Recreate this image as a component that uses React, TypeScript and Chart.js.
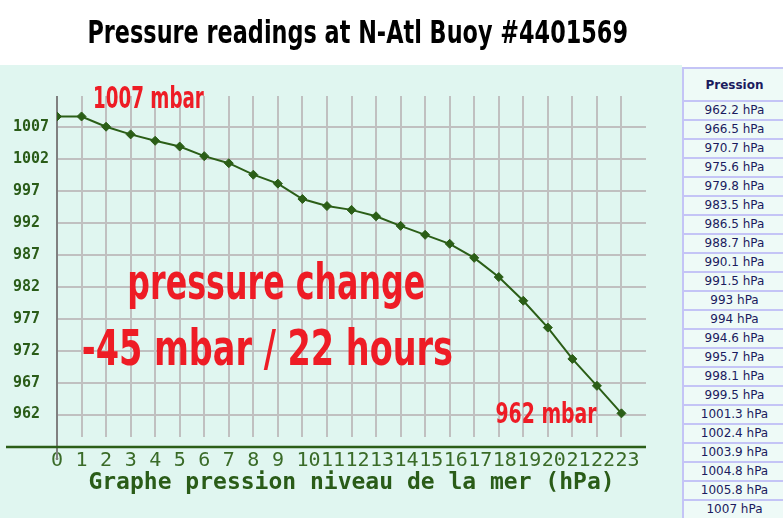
import React, { useEffect, useRef } from 'react';
import { Chart, registerables } from 'chart.js';

Chart.register(...registerables);

// ---------- data ----------
const chartTitle = 'Pressure readings at N-Atl Buoy #4401569';
const hours = [0, 1, 2, 3, 4, 5, 6, 7, 8, 9, 10, 11, 12, 13, 14, 15, 16, 17, 18, 19, 20, 21, 22, 23];
const pressureHpa = [
  1008.6, 1008.6, 1007.0, 1005.8, 1004.8, 1003.9, 1002.4, 1001.3, 999.5, 998.1, 995.7, 994.6,
  994.0, 993.0, 991.5, 990.1, 988.7, 986.5, 983.5, 979.8, 975.6, 970.7, 966.5, 962.2,
];
const yTickValues = [962, 967, 972, 977, 982, 987, 992, 997, 1002, 1007];
const xAxisTitle = 'Graphe pression niveau de la mer (hPa)';
const tableHeader = 'Pression';
const tableUnit = 'hPa';
const tableValues = [...pressureHpa].reverse();
const annotationTexts = ['1007 mbar', 'pressure change', '-45 mbar / 22 hours', '962 mbar'];

// ---------- styles ----------
const CONDENSED = '"Liberation Sans Narrow", "DejaVu Sans Condensed", "DejaVu Sans", sans-serif';
const MONO = '"DejaVu Sans Mono", "Liberation Mono", monospace';
const RED = '#ee1c25';
const GREEN = '#2b5e17';
const DARK_TEXT = '#2a5c18';
const TICK_TEXT = '#3a6b28';
const MINT = '#e0f6f0';
const GRID = '#c0c0c0';
const LAV = '#c4c4f6';
const NAVY = '#1b1b5e';
const CELL_BG = '#eefaf7';

type FitSpec = {
  text: string;
  left: number;
  baseline: number;
  width: number;
  refChar: string;
  refHeight: number;
  color: string;
};

const textBoxes: FitSpec[] = [
  { text: chartTitle, left: 89.3, baseline: 43.3, width: 537.4, refChar: '0', refHeight: 25, color: '#000000' },
  { text: annotationTexts[0], left: 95, baseline: 107.7, width: 109, refChar: '0', refHeight: 22.7, color: RED },
  { text: annotationTexts[1], left: 130, baseline: 299.3, width: 294, refChar: 'x', refHeight: 27.6, color: RED },
  { text: annotationTexts[2], left: 82.7, baseline: 365, width: 369, refChar: '0', refHeight: 38.5, color: RED },
  { text: annotationTexts[3], left: 496, baseline: 423.3, width: 100.7, refChar: '0', refHeight: 21.7, color: RED },
];

function drawFitted(ctx: CanvasRenderingContext2D, s: FitSpec) {
  ctx.save();
  ctx.font = `bold 40px ${CONDENSED}`;
  const m = ctx.measureText(s.text);
  const inkW = m.actualBoundingBoxLeft + m.actualBoundingBoxRight;
  const refH = ctx.measureText(s.refChar).actualBoundingBoxAscent;
  const sx = s.width / inkW;
  const sy = s.refHeight / refH;
  ctx.translate(s.left, s.baseline);
  ctx.scale(sx, sy);
  ctx.textAlign = 'left';
  ctx.textBaseline = 'alphabetic';
  ctx.fillStyle = s.color;
  ctx.fillText(s.text, m.actualBoundingBoxLeft, 0);
  ctx.restore();
}

const decorPlugin = {
  id: 'buoyDecor',
  beforeDraw(chart: any) {
    const { ctx, width, height } = chart;
    ctx.save();
    ctx.fillStyle = '#ffffff';
    ctx.fillRect(0, 0, width, height);
    ctx.fillStyle = MINT;
    ctx.fillRect(0, 65, width, height - 65);
    ctx.restore();
    drawFitted(ctx, textBoxes[0]);
  },
  beforeDatasetsDraw(chart: any) {
    const { ctx, chartArea } = chart;
    const x0 = chart.scales.x.getPixelForValue(hours[0]);
    ctx.save();
    ctx.lineWidth = 2;
    ctx.strokeStyle = '#808080';
    ctx.beginPath();
    ctx.moveTo(x0, chartArea.top);
    ctx.lineTo(x0, chartArea.bottom + 23);
    ctx.stroke();
    ctx.strokeStyle = GREEN;
    ctx.lineWidth = 2.5;
    ctx.beginPath();
    ctx.moveTo(6, chartArea.bottom + 10);
    ctx.lineTo(chartArea.right, chartArea.bottom + 10);
    ctx.stroke();
    ctx.restore();
    for (let i = 1; i < textBoxes.length; i++) drawFitted(ctx, textBoxes[i]);
  },
};

function PressureChart() {
  const ref = useRef<HTMLCanvasElement>(null);
  useEffect(() => {
    const canvas = ref.current;
    if (!canvas) return;
    const chart = new Chart(canvas, {
      type: 'line',
      data: {
        datasets: [
          {
            data: hours.map((h, i) => ({ x: h, y: pressureHpa[i] })),
            borderColor: GREEN,
            backgroundColor: GREEN,
            borderWidth: 2,
            pointStyle: 'rectRot',
            pointRadius: 4.5,
            pointBorderWidth: 1,
            pointBackgroundColor: GREEN,
            pointBorderColor: GREEN,
            tension: 0,
            fill: false,
          },
        ],
      },
      options: {
        responsive: false,
        animation: false,
        layout: { padding: { left: 13, top: 96, right: 36, bottom: 0 } },
        plugins: {
          legend: { display: false },
          tooltip: { enabled: false },
          title: { display: false },
        },
        scales: {
          x: {
            type: 'linear',
            min: 0,
            max: 24,
            afterBuildTicks: (s: any) => {
              s.ticks = hours.map((v) => ({ value: v }));
            },
            afterFit: (s: any) => {
              s.height = 81;
            },
            grid: { color: GRID, lineWidth: 2, drawTicks: false },
            border: { display: false },
            ticks: {
              autoSkip: false,
              maxRotation: 0,
              minRotation: 0,
              align: 'start',
              labelOffset: -6,
              padding: 12,
              color: TICK_TEXT,
              font: { family: MONO, size: 20 },
              callback: (v: any) => String(v),
            },
            title: {
              display: true,
              text: xAxisTitle,
              color: DARK_TEXT,
              font: { family: MONO, size: 23, weight: 'bold' },
              padding: { top: 0, bottom: 21 },
            },
          },
          y: {
            type: 'linear',
            min: 958.5,
            max: 1011.8,
            afterBuildTicks: (s: any) => {
              s.ticks = yTickValues.map((v) => ({ value: v }));
            },
            afterFit: (s: any) => {
              s.width = 44;
            },
            grid: { color: GRID, lineWidth: 2, drawTicks: false },
            border: { display: false },
            ticks: {
              crossAlign: 'far',
              padding: 0,
              color: DARK_TEXT,
              font: { family: MONO, size: 15, weight: 'bold' },
              callback: (v: any) => String(v),
            },
          },
        },
      } as any,
      plugins: [decorPlugin],
    });
    return () => chart.destroy();
  }, []);
  return (
    <canvas
      ref={ref}
      width={682}
      height={518}
      style={{ position: 'absolute', left: 0, top: 0, width: 682, height: 518 }}
    />
  );
}

function PressureTable() {
  const border = `2px solid ${LAV}`;
  return (
    <div style={{ position: 'absolute', left: 682, top: 67 }}>
      <table
        style={{
          borderCollapse: 'separate',
          borderSpacing: 0,
          width: 103,
          borderLeft: border,
          borderTop: border,
          fontFamily: '"DejaVu Sans", Verdana, sans-serif',
          fontSize: 12,
          color: NAVY,
          background: CELL_BG,
        }}
      >
        <thead>
          <tr>
            <th
              style={{
                height: 31,
                padding: 0,
                borderBottom: border,
                fontWeight: 'bold',
                textAlign: 'center',
              }}
            >
              {tableHeader}
            </th>
          </tr>
        </thead>
        <tbody>
          {tableValues.map((v, i) => (
            <tr key={i}>
              <td
                style={{
                  height: 17,
                  lineHeight: '17px',
                  padding: 0,
                  borderBottom: border,
                  textAlign: 'center',
                  whiteSpace: 'nowrap',
                }}
              >
                {`${v} ${tableUnit}`}
              </td>
            </tr>
          ))}
        </tbody>
      </table>
    </div>
  );
}

export default function App() {
  return (
    <div
      style={{
        position: 'absolute',
        left: 0,
        top: 0,
        width: 783,
        height: 518,
        overflow: 'hidden',
        background: '#ffffff',
      }}
    >
      <PressureChart />
      <PressureTable />
    </div>
  );
}
